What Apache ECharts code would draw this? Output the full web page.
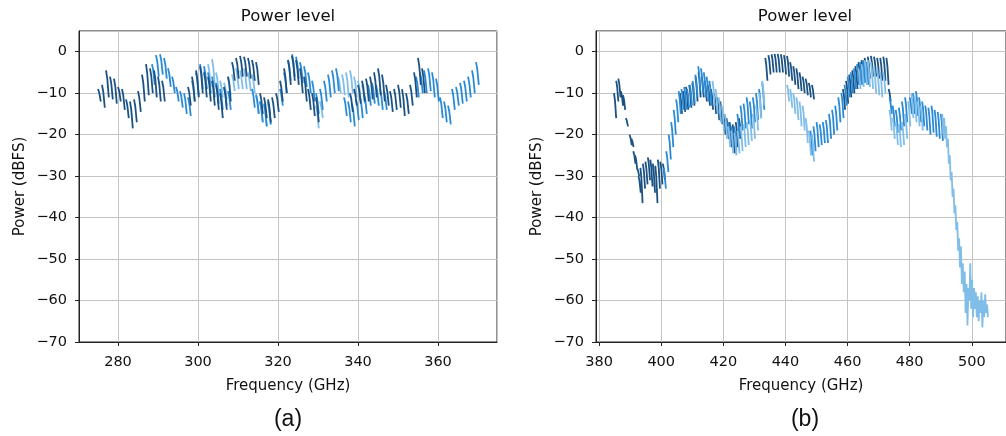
<!DOCTYPE html>
<html><head><meta charset="utf-8">
<script src="https://cdn.jsdelivr.net/npm/echarts/dist/echarts.min.js"></script>
<style>html,body{margin:0;padding:0;background:#fff}#c{width:1006px;height:436px}</style>
</head><body><div id="c"></div>
<script>
// Each tooth of a sweep: [frequency GHz, top dBFS, bottom dBFS]
const aDark = [
[275.0,-9,-12],[276.0,-8,-13.5],[277.0,-4.5,-11],[278.0,-6,-11.5],[279.0,-6.5,-12.5],[280.0,-8.5,-12],[281.0,-9,-14],[282.0,-11.5,-16],[283.0,-12,-18.5],[284.0,-11.5,-17],[285.0,-9.5,-14.5],[286.0,-5.5,-12],[287.0,-3,-10.5],[288.0,-4,-10],[289.0,-4.5,-11],[290.0,-6,-12],[291.0,-7,-12],
[297.5,-8.5,-13],[298.5,-6,-12],[299.5,-4.5,-11],[300.5,-3.5,-10],[301.5,-5,-11],[302.5,-6,-12],[303.5,-7,-13],[304.5,-8,-14],[305.5,-10,-16],[306.5,-8.5,-14],[307.5,-6,-12],
[308.5,-2.5,-7],[309.5,-1.5,-6.5],[310.5,-1,-6],[311.5,-1.2,-6],[312.5,-1.5,-6.5],[313.5,-2,-7],[314.5,-2.5,-8],
[315.5,-10,-15],[316.5,-11,-16],[317.5,-11.5,-17],[318.5,-11,-16],[319.5,-10,-14.5],
[320.5,-7,-12],[321.5,-4,-10],[322.5,-2,-8],[323.5,-1,-7],[324.5,-2,-8],[325.5,-4,-10],[326.5,-6,-12],[327.5,-9,-14],[328.5,-10,-15.5],[329.5,-11,-17],
[338.0,-10,-14.5],[339.0,-9,-13],[340.0,-8,-12.5],[341.0,-7,-12],[342.0,-6.5,-12],[343.0,-6,-11.5],[344.0,-5,-11],[345.0,-4,-10.5],[346.0,-5.5,-12],[347.0,-8,-13],[348.0,-9.5,-14.5],[349.0,-9,-14],[350.0,-8,-13.5],[351.0,-9,-15.5],[352.0,-10,-15],[353.0,-8,-13],[354.0,-5,-11],[355.0,-1.5,-8],[356.0,-4,-10]
];
const aMed = [
[288.5,-3,-8],[289.5,-0.8,-6],[290.5,-0.6,-5.5],[291.5,-1.5,-6.5],[292.5,-4,-8.5],[293.5,-6,-10],
[294.5,-8.5,-12],[295.5,-9.5,-13.5],[296.5,-10,-15],[297.5,-11,-15.5],
[298.5,-7,-12],[299.5,-5,-10.5],[300.5,-3,-9],[301.5,-3.5,-9],[302.5,-5,-10],[303.5,-6,-11],
[304.5,-7.5,-12.5],[305.5,-9,-14],[306.5,-8.5,-13],[307.5,-9.5,-14],
[313.5,-9,-13.5],[314.5,-10.5,-15],[315.5,-12,-17],[316.5,-12.5,-18],[317.5,-12,-17.5],
[320.5,-9,-13],[321.5,-5,-10],[322.5,-2,-7],[323.5,-0.6,-6],[324.5,-1.2,-6.5],[325.5,-2.5,-7.5],[326.5,-3.5,-8.5],[327.5,-5,-10],[328.5,-7,-12],
[329.5,-10,-15],[330.5,-9,-14],[331.5,-7,-12],[332.5,-5.5,-11],[333.5,-4.5,-10],[334.5,-4,-9.5],
[336.5,-11,-15.5],[337.5,-12,-17],[338.5,-12.5,-18],[339.5,-11.5,-16.5],[340.5,-11,-16],[341.5,-10,-15],
[342.5,-8,-13],[343.5,-7.5,-12.5],[344.5,-8,-13],[345.5,-9,-14],[346.5,-9.5,-14],
[354.5,-6,-11],[355.5,-5,-10],[356.5,-4.5,-10],[357.5,-4,-9.5],[358.5,-5,-11],[359.5,-6.5,-12],
[360.5,-11,-16],[361.5,-12,-17],[362.5,-13,-17.5],
[363.5,-9,-14],[364.5,-8.5,-13],[365.5,-7.5,-12.5],[366.5,-7,-12],[367.5,-6,-11],[368.5,-4.5,-10],[369.5,-2.5,-8]
];
const aLight = [
[301.5,-4.5,-9],[302.5,-3,-8.5],[303.5,-1.8,-8],[304.5,-5,-10],
[305.5,-7,-11],[306.5,-7.5,-11.5],[307.5,-6,-10.5],[308.5,-5.5,-9.5],[309.5,-4,-9],[310.5,-4.5,-9],[311.5,-4,-9],[312.5,-5,-9.5],[313.5,-5.5,-10],
[314.5,-10,-15],[315.5,-12,-17],[316.5,-13,-18],[317.5,-12.5,-17.5],
[329.5,-13,-18.5],[330.5,-12,-16],
[335.0,-6,-10],[336.0,-5.5,-10.5],[337.0,-5,-11],[338.0,-4.5,-10],[339.0,-6,-11],[340.0,-7,-12],[341.0,-8,-12.5]
];
const bDark = [
[384.8,-10,-16],[385.5,-7,-12],[386.2,-6.5,-11],
[387.0,-9.5,-13],[387.7,-10.5,-14],
[388.6,-16,-18],
[389.8,-20,-22.5],[390.4,-21,-23],
[391.0,-24,-27],[391.6,-25,-28.5],[392.2,-28,-30],
[392.7,-30,-34],[393.3,-28,-36.5],[394.1,-27,-33],[394.9,-26.5,-32],[395.7,-25.5,-31],[396.5,-26,-32.5],[397.3,-27,-34],[398.1,-27.5,-36.5],[398.9,-26,-33],[399.7,-26.5,-32],[400.5,-27,-31],
[406.0,-10,-15],[407.0,-9.5,-14.5],[408.0,-8.5,-14],[409.0,-8,-13.5],[410.0,-7.5,-13],[411.0,-6,-12],[412.0,-5,-11],
[413.0,-6,-11],[414.0,-7,-12],[415.0,-8,-13],[416.0,-9,-14],[417.0,-10,-15],[418.0,-11,-16.5],[419.0,-12,-17.5],
[420.0,-15,-20],[421.0,-16,-21],[422.0,-17,-23],[423.0,-17.5,-24.5],[424.0,-17,-23],[425.0,-16,-21],
[433.5,-1.5,-7],[434.5,-0.8,-5.5],[435.5,-0.6,-5],[436.5,-0.5,-5],[437.5,-0.5,-5],[438.5,-0.6,-5],[439.5,-0.8,-5.5],[440.5,-1,-6],[441.5,-2.5,-7],[442.5,-3.5,-8],[443.5,-4,-9],[444.5,-5,-9.5],[445.5,-6,-10],[446.5,-6.5,-10.5],[447.5,-7.5,-11],[448.5,-8,-11.5],
[458.5,-9,-14],[459.5,-7,-12.5],[460.5,-5.5,-11],[461.5,-4.5,-10],[462.5,-3.5,-9],[463.5,-2.5,-8],[464.5,-2,-7.5],[465.5,-1.5,-7],[466.5,-1.2,-6.5],[467.5,-1,-6],[468.5,-1.2,-6],[469.5,-1.5,-6.5],[470.5,-1.5,-7],[471.5,-1.2,-7],[472.5,-1.5,-8],[473.2,-9,-12]
];
const bMed = [
[400.8,-28,-33],[401.6,-24,-29],[402.4,-20,-26],[403.2,-17,-23],[404.0,-14,-20],[404.8,-11.5,-17],
[405.6,-9.5,-15],[406.5,-9,-14],[407.4,-8.5,-14],[408.3,-9,-13.5],[409.2,-8,-13],[410.1,-7,-12.5],[411.0,-5.5,-11],[411.9,-3.5,-9.5],
[412.8,-4,-10],[413.7,-5,-11],[414.6,-6,-12],[415.5,-7,-13],
[421.5,-17,-22],[422.5,-18,-23.5],[423.5,-18,-24],[424.5,-15,-21],[425.5,-13,-19],[426.5,-12.5,-18.5],[427.5,-11,-17.5],[428.5,-12,-18.5],[429.5,-11,-17],[430.5,-10,-16.5],[431.5,-9,-16],[432.5,-7.5,-14],
[448.0,-19,-25],[449.0,-18,-24],[450.0,-17,-23],[451.0,-17.5,-22.5],[452.0,-17,-22],[453.0,-16.5,-22],
[454.0,-15,-21],[455.0,-14,-20],[456.0,-13,-19],[457.0,-11,-17],[458.0,-10,-16],[459.0,-8,-13],[460.0,-6,-11],[461.0,-5,-10],[462.0,-4,-9],[463.0,-3,-8],[464.0,-2.5,-8],[465.0,-2,-7.5],[466.0,-2.5,-8],
[473.5,-11,-15],[474.5,-13,-18],[475.5,-14,-19.5],[476.5,-13.5,-19],[477.5,-12,-18],[478.5,-11,-17],
[480.0,-11,-15],[481.0,-10,-15],[482.0,-9.5,-15.5],[483.0,-11,-17],[484.0,-12,-18],[485.0,-13,-19],[486.0,-13.5,-20],[487.0,-13,-19.5],[488.0,-14,-20.5],[489.0,-14.5,-21],[490.0,-15,-21.5]
];
const bLight = [
[416.5,-7,-13],[417.5,-9,-15],[418.5,-11,-17],[419.5,-13,-19],[420.5,-15,-21],
[421.5,-18,-23],[422.5,-19,-24.5],[423.5,-19.5,-25],[424.5,-19,-24.5],[425.5,-18,-24],[426.5,-17.5,-23],[427.5,-17,-22.5],[428.5,-16.5,-21.5],[429.5,-15,-21],[430.5,-13,-19],[431.5,-10,-16],[432.5,-7,-13],
[440.5,-8,-12],[441.5,-9,-13.5],[442.5,-10,-15],[443.5,-11,-16.5],[444.5,-12,-18],[445.5,-13,-19],[446.5,-16,-22],[447.5,-19,-25],[448.5,-20,-26.5],
[463.5,-4,-9],[464.5,-3,-8.5],[465.5,-2,-8],[466.5,-2,-8.5],[467.5,-2.5,-9],[468.5,-3.5,-10],[469.5,-4,-10.5],[470.5,-5,-11],[471.5,-5,-10],
[473.5,-14,-19],[474.5,-16,-21],[475.5,-17,-22.5],[476.5,-17.5,-23],[477.5,-17,-22.5],[478.5,-15,-21],[479.5,-12,-18],
[480.5,-10,-16],[481.5,-10.5,-17],[482.5,-12,-18],[483.5,-13,-19]
];
// Continuous roll-off sweep: [frequency GHz, dBFS]
const bLightCliff = [
[490.5,-15],[490.8,-20],[491.1,-16],[491.4,-21],[491.7,-18],[492.0,-23],[492.3,-21],[492.6,-27],[492.9,-25],[493.2,-31],[493.5,-29],[493.8,-35],[494.1,-33],[494.4,-39],[494.7,-37],[495.0,-43],[495.3,-41],[495.6,-48],[495.9,-45],[496.2,-52],[496.5,-47],[496.8,-56],[497.1,-51],[497.4,-58],[497.7,-53],[498.0,-63],[498.3,-56],[498.6,-66],[498.9,-57],[499.2,-60],[499.5,-51],[499.8,-62],[500.1,-55],[500.4,-64],[500.7,-57],[501.0,-62],[501.3,-58],[501.6,-64],[501.9,-59],[502.2,-65],[502.5,-60],[502.8,-63],[503.1,-58],[503.4,-66.5],[503.7,-60],[504.0,-64],[504.3,-58.5],[504.6,-63],[504.9,-61],[505.2,-64]
];
const panelLabels = ['(a)', '(b)'];
const titleText = 'Power level';
const xName = 'Frequency (GHz)';
const yName = 'Power (dBFS)';

const TOOTH = 0.7;
const C_DARK = '#1b5283', C_MED = '#2a8ad5', C_LIGHT = '#80bde9';
const FONT = 'DejaVu Sans';

function teeth(arr){
  const out = [];
  arr.forEach(t => {
    out.push([t[0], t[1]]);
    out.push([t[0] + TOOTH * 0.45, t[1] + (t[2] - t[1]) * 0.3]);
    out.push([t[0] + TOOTH, t[2]]);
    out.push([t[0] + TOOTH, null]);
  });
  return out;
}
const fmtMinus = v => v < 0 ? '\u2212' + Math.abs(v) : String(v);

function xAxisFor(i, min, max, split){
  return {
    gridIndex: i, type: 'value', min: min, max: max, splitNumber: split,
    axisLine: {show: true, onZero: false, lineStyle: {color: '#222', width: 1}},
    axisTick: {show: true, length: 4, lineStyle: {color: '#222', width: 1}},
    axisLabel: {showMinLabel: false, showMaxLabel: false, color: '#111', fontFamily: FONT, fontSize: 14.5, margin: 13},
    splitLine: {show: true, lineStyle: {color: '#c4c4c4', width: 1}},
    name: xName, nameLocation: 'middle', nameGap: 37,
    nameTextStyle: {color: '#111', fontFamily: FONT, fontSize: 15}
  };
}
function yAxisFor(i){
  return {
    gridIndex: i, type: 'value', min: -70, max: 5, interval: 10,
    axisLine: {show: true, onZero: false, lineStyle: {color: '#222', width: 1}},
    axisTick: {show: true, length: 4, lineStyle: {color: '#222', width: 1}},
    axisLabel: {showMaxLabel: false, color: '#111', fontFamily: FONT, fontSize: 14.5, margin: 12, formatter: fmtMinus},
    splitLine: {show: true, lineStyle: {color: '#c4c4c4', width: 1}},
    name: yName, nameLocation: 'middle', nameGap: 51, nameRotate: 90,
    nameTextStyle: {color: '#111', fontFamily: FONT, fontSize: 15}
  };
}
function lineSeries(i, data, color){
  return {type: 'line', xAxisIndex: i, yAxisIndex: i, data: data, showSymbol: false, symbol: 'none',
    connectNulls: false, lineStyle: {color: color, width: 1.8}, itemStyle: {color: color}, silent: true, z: 3};
}

const chart = echarts.init(document.getElementById('c'), null, {renderer: 'canvas'});
chart.setOption({
  animation: false,
  backgroundColor: '#fff',
  grid: [
    {left: 79, top: 31, width: 418, height: 311, show: true, borderColor: '#222', borderWidth: 1, backgroundColor: 'transparent'},
    {left: 596, top: 31, width: 418, height: 311, show: true, borderColor: '#222', borderWidth: 1, backgroundColor: 'transparent'}
  ],
  xAxis: [xAxisFor(0, 270.25, 374.75, 5), xAxisFor(1, 379, 511, 6)],
  yAxis: [yAxisFor(0), yAxisFor(1)],
  series: [
    lineSeries(0, teeth(aLight), C_LIGHT),
    lineSeries(0, teeth(aMed), C_MED),
    lineSeries(0, teeth(aDark), C_DARK),
    lineSeries(1, teeth(bDark), C_DARK),
    lineSeries(1, teeth(bMed), C_MED),
    lineSeries(1, teeth(bLight), C_LIGHT),
    lineSeries(1, bLightCliff, C_LIGHT)
  ],
  graphic: [
    {type: 'text', x: 288, y: 17, style: {text: titleText, align: 'center', verticalAlign: 'middle', fontSize: 16.5, fontFamily: FONT, fill: '#111'}},
    {type: 'text', x: 805, y: 17, style: {text: titleText, align: 'center', verticalAlign: 'middle', fontSize: 16.5, fontFamily: FONT, fill: '#111'}},
    {type: 'text', x: 288, y: 420, style: {text: panelLabels[0], align: 'center', verticalAlign: 'middle', fontSize: 23, fontFamily: 'Liberation Sans', fill: '#111'}},
    {type: 'text', x: 805, y: 420, style: {text: panelLabels[1], align: 'center', verticalAlign: 'middle', fontSize: 23, fontFamily: 'Liberation Sans', fill: '#111'}}
  ]
});
</script>
</body></html>
